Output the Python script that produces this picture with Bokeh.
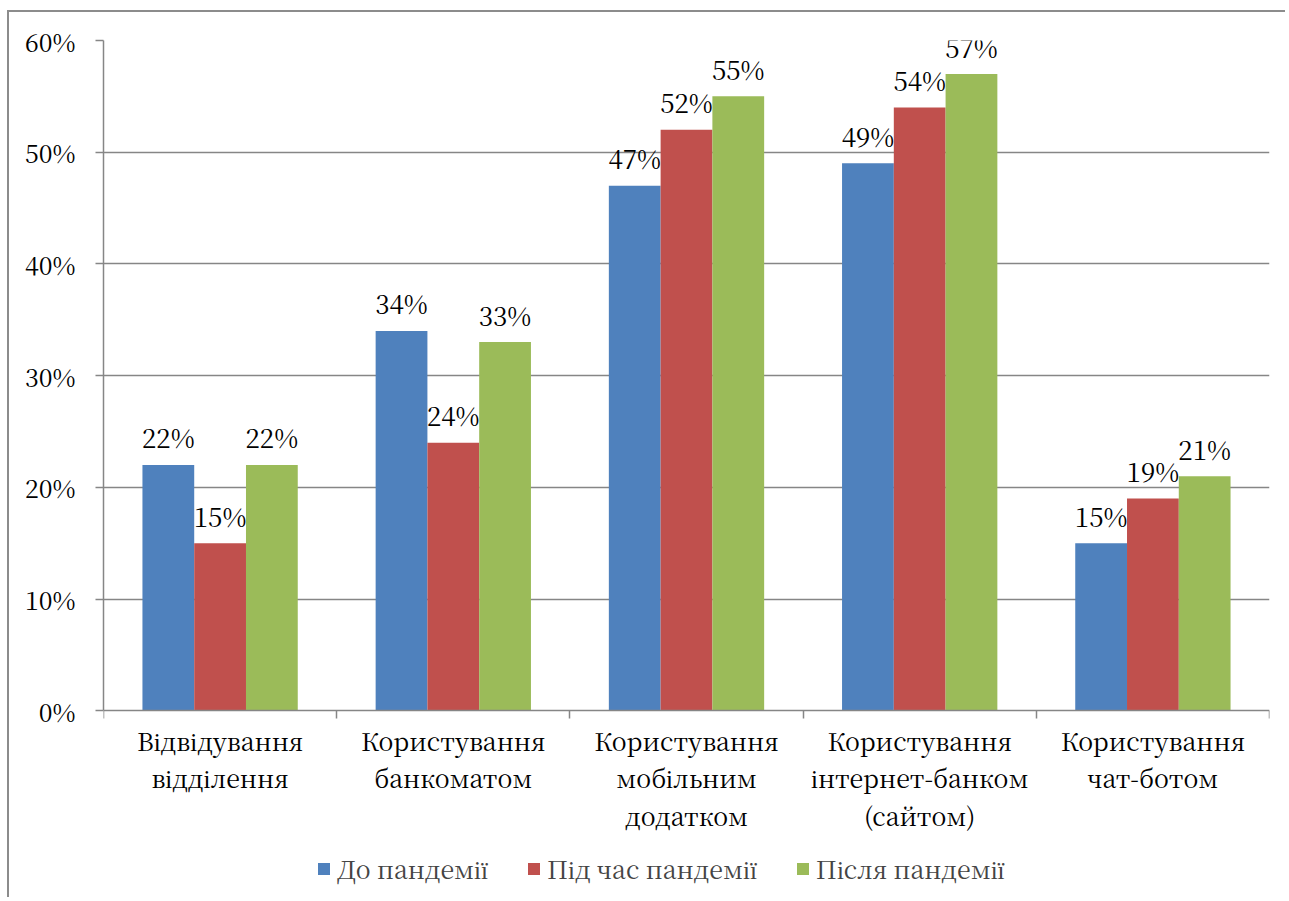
from bokeh.plotting import figure
from bokeh.models import ColumnDataSource, FixedTicker, NumeralTickFormatter, Range1d, Legend, LegendItem
from bokeh.core.properties import value
from bokeh.embed import file_html
from bokeh.resources import INLINE

categories = [
    "Відвідування\nвідділення",
    "Користування\nбанкоматом",
    "Користування\nмобільним\nдодатком",
    "Користування\nінтернет-банком\n(сайтом)",
    "Користування\nчат-ботом",
]
series_names = ["До пандемії", "Під час пандемії", "Після пандемії"]
before = [22, 34, 47, 49, 15]
during = [15, 24, 52, 54, 19]
after = [22, 33, 55, 57, 21]
colors = ["#4F81BD", "#C0504D", "#9BBB59"]
y_ticks = [0, 0.1, 0.2, 0.3, 0.4, 0.5, 0.6]

FONT = "Noto Serif CJK SC"
GRID = "#868686"
Y_MIN = -0.169  # extra room below zero for category labels and legend

p = figure(width=1278, height=887, output_backend="svg", toolbar_location=None,
           x_range=Range1d(0, len(categories)), y_range=Range1d(Y_MIN, 0.6),
           min_border_left=94, min_border_right=18, min_border_top=28, min_border_bottom=0)
p.margin = (10, 0, 0, 7)
p.styles = {"border-left": "2px solid #8c8c8c", "border-top": "2px solid #8c8c8c"}
p.outline_line_color = None
p.background_fill_color = "white"
p.border_fill_color = "white"

bw = 0.222
renderers = []
for k, (vals, name, col) in enumerate(zip([before, during, after], series_names, colors)):
    xs = [i + 0.5 + (k - 1) * bw for i in range(len(categories))]
    src = ColumnDataSource(dict(x=xs, top=[v / 100 for v in vals],
                                lab=[f"{v}%" for v in vals]))
    r = p.vbar(x="x", top="top", width=bw, source=src, fill_color=col, line_color=None)
    renderers.append((name, r))
    p.text(x="x", y="top", text="lab", source=src, text_align="center",
           text_baseline="alphabetic", y_offset=-28, text_font=value(FONT),
           text_font_size="26px", text_color="black")

# y axis
yax = p.yaxis[0]
yax.ticker = FixedTicker(ticks=y_ticks)
yax.bounds = (0, 0.6)
yax.formatter = NumeralTickFormatter(format="0%")
yax.axis_line_color = GRID
yax.axis_line_width = 1.5
yax.major_tick_line_color = GRID
yax.major_tick_line_width = 1.5
yax.major_tick_in = 0
yax.major_tick_out = 8
yax.minor_tick_line_color = None
yax.major_label_standoff = 20
yax.major_label_text_font = FONT
yax.major_label_text_font_size = "25px"
yax.major_label_text_color = "black"

# x axis at zero
xax = p.xaxis[0]
xax.fixed_location = 0
xax.ticker = FixedTicker(ticks=[i + 0.5 for i in range(len(categories))],
                         minor_ticks=list(range(len(categories) + 1)))
xax.major_label_overrides = {i + 0.5: c for i, c in enumerate(categories)}
xax.axis_line_color = GRID
xax.axis_line_width = 1.5
xax.major_tick_line_color = None
xax.major_tick_in = 0
xax.major_tick_out = 0
xax.minor_tick_line_color = GRID
xax.minor_tick_line_width = 1.5
xax.minor_tick_in = 0
xax.minor_tick_out = 8
xax.major_label_standoff = 3
xax.major_label_text_font = FONT
xax.major_label_text_font_size = "25px"
xax.major_label_text_color = "black"
xax.major_label_text_line_height = 1.04

p.xgrid.visible = False
p.ygrid.ticker = FixedTicker(ticks=y_ticks[1:])
p.ygrid.grid_line_color = GRID
p.ygrid.grid_line_width = 1.5

legend = Legend(items=[LegendItem(label=n, renderers=[r]) for n, r in renderers],
                orientation="horizontal", location=(213, 13),
                label_text_font=FONT, label_text_font_size="25px",
                glyph_width=15, glyph_height=15, label_standoff=6, spacing=38,
                padding=0, margin=0, border_line_color=None, background_fill_alpha=0)
p.add_layout(legend, "center")

open("out.html", "w").write(file_html(p, INLINE))
